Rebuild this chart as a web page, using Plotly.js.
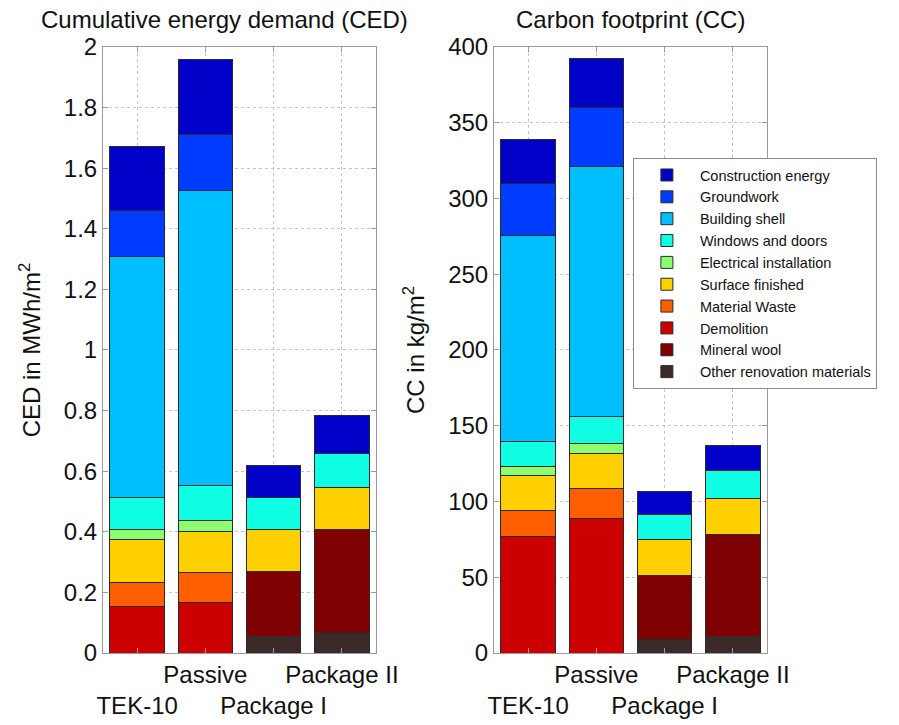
<!DOCTYPE html>
<html>
<head>
<meta charset="utf-8">
<script src="https://cdn.plot.ly/plotly-3.0.1.min.js"></script>
<style>html,body{margin:0;padding:0;background:#fff;}#chart{width:899px;height:725px;}</style>
</head>
<body>
<div id="chart"></div>
<script>
// ---- data ----
const categories = ["TEK-10", "Passive", "Package I", "Package II"];
const tickLabels = ["<br>TEK-10", "Passive", "<br>Package I", "Package II"];

// series listed bottom of stack first
const seriesNames = ["Other renovation materials", "Mineral wool", "Demolition", "Material Waste",
  "Surface finished", "Electrical installation", "Windows and doors", "Building shell",
  "Groundwork", "Construction energy"];

// Cumulative energy demand, MWh/m2
const cedOther        = [null, null, 0.054, 0.067];
const cedMineralWool  = [null, null, 0.216, 0.339];
const cedDemolition   = [0.152, 0.168, null, null];
const cedWaste        = [0.080, 0.097, null, null];
const cedSurface      = [0.141, 0.137, 0.138, 0.139];
const cedElectrical   = [0.033, 0.035, null, null];
const cedWindows      = [0.107, 0.116, 0.104, 0.114];
const cedShell        = [0.795, 0.973, null, null];
const cedGroundwork   = [0.152, 0.185, null, null];
const cedConstruction = [0.213, 0.248, 0.107, 0.126];

// Carbon footprint, kg/m2
const ccOther        = [null, null, 8.8, 11.0];
const ccMineralWool  = [null, null, 42.2, 67.1];
const ccDemolition   = [77.0, 88.9, null, null];
const ccWaste        = [16.9, 19.4, null, null];
const ccSurface      = [23.3, 23.7, 23.8, 23.9];
const ccElectrical   = [5.6, 6.6, null, null];
const ccWindows      = [16.9, 17.6, 16.9, 18.3];
const ccShell        = [136.2, 164.6, null, null];
const ccGroundwork   = [33.7, 39.3, null, null];
const ccConstruction = [29.2, 32.6, 14.6, 16.5];

// ---- styling ----
const colors = ["#3c2a29", "#7f0000", "#cc0000", "#ff5f00", "#ffd000", "#8cff6e",
  "#10ffe4", "#00bfff", "#003cff", "#0000c8"];

const cedSeries = [cedOther, cedMineralWool, cedDemolition, cedWaste, cedSurface,
  cedElectrical, cedWindows, cedShell, cedGroundwork, cedConstruction];
const ccSeries = [ccOther, ccMineralWool, ccDemolition, ccWaste, ccSurface,
  ccElectrical, ccWindows, ccShell, ccGroundwork, ccConstruction];

const traces = [];
seriesNames.forEach((name, i) => {
  traces.push({
    type: "bar", name: name, x: categories, y: cedSeries[i],
    xaxis: "x", yaxis: "y", legendgroup: name, showlegend: true,
    marker: {color: colors[i], line: {color: "#2a2a2a", width: 1}}
  });
});
seriesNames.forEach((name, i) => {
  traces.push({
    type: "bar", name: name, x: categories, y: ccSeries[i],
    xaxis: "x2", yaxis: "y2", legendgroup: name, showlegend: false,
    marker: {color: colors[i], line: {color: "#2a2a2a", width: 1}}
  });
});

const FONT = "Liberation Sans, Arial, sans-serif";
const axisCommon = {
  showline: true, linecolor: "#9a9a9a", linewidth: 1, mirror: "ticks",
  ticks: "inside", ticklen: 5, tickcolor: "#9a9a9a",
  showgrid: true, gridcolor: "#c4c4c4", griddash: "dot", gridwidth: 1,
  zeroline: false, tickfont: {family: FONT, size: 24, color: "#111"}
};

const layout = {
  width: 899, height: 725,
  margin: {l: 0, r: 0, t: 0, b: 0},
  paper_bgcolor: "#fff", plot_bgcolor: "#fff",
  font: {family: FONT, color: "#111"},
  barmode: "stack", bargap: 0.2,
  showlegend: true,
  legend: {
    x: 0.704, y: 0.782, xanchor: "left", yanchor: "top",
    traceorder: "reversed", bgcolor: "#fff", bordercolor: "#8a8a8a", borderwidth: 1,
    font: {family: FONT, size: 14.5, color: "#111"}, itemwidth: 56, tracegroupgap: 0
  },
  xaxis: Object.assign({}, axisCommon, {
    domain: [0.1146, 0.4182], type: "category", range: [-0.5, 3.5], tickangle: 0,
    tickmode: "array", tickvals: categories, ticktext: tickLabels, anchor: "y"
  }),
  yaxis: Object.assign({}, axisCommon, {
    domain: [0.0993, 0.9352], range: [0, 2], dtick: 0.2, anchor: "x",
    title: {text: "CED in MWh/m<sup>2</sup>", font: {family: FONT, size: 24, color: "#111"}, standoff: 16}
  }),
  xaxis2: Object.assign({}, axisCommon, {
    domain: [0.5495, 0.8532], type: "category", range: [-0.5, 3.5], tickangle: 0,
    tickmode: "array", tickvals: categories, ticktext: tickLabels, anchor: "y2"
  }),
  yaxis2: Object.assign({}, axisCommon, {
    domain: [0.0993, 0.9352], range: [0, 400], dtick: 50, anchor: "x2",
    title: {text: "CC in kg/m<sup>2</sup>", font: {family: FONT, size: 24, color: "#111"}, standoff: 16}
  }),
  annotations: [
    {text: "Cumulative energy demand (CED)", xref: "x domain", yref: "y domain", x: 0.5, y: 1,
     xanchor: "center", yanchor: "bottom", yshift: 12, xshift: -15, showarrow: false,
     font: {family: FONT, size: 24, color: "#111"}},
    {text: "Carbon footprint (CC)", xref: "x2 domain", yref: "y2 domain", x: 0.5, y: 1,
     xanchor: "center", yanchor: "bottom", yshift: 12, showarrow: false,
     font: {family: FONT, size: 24, color: "#111"}}
  ]
};

Plotly.newPlot("chart", traces, layout, {displayModeBar: false, staticPlot: true});
</script>
</body>
</html>
